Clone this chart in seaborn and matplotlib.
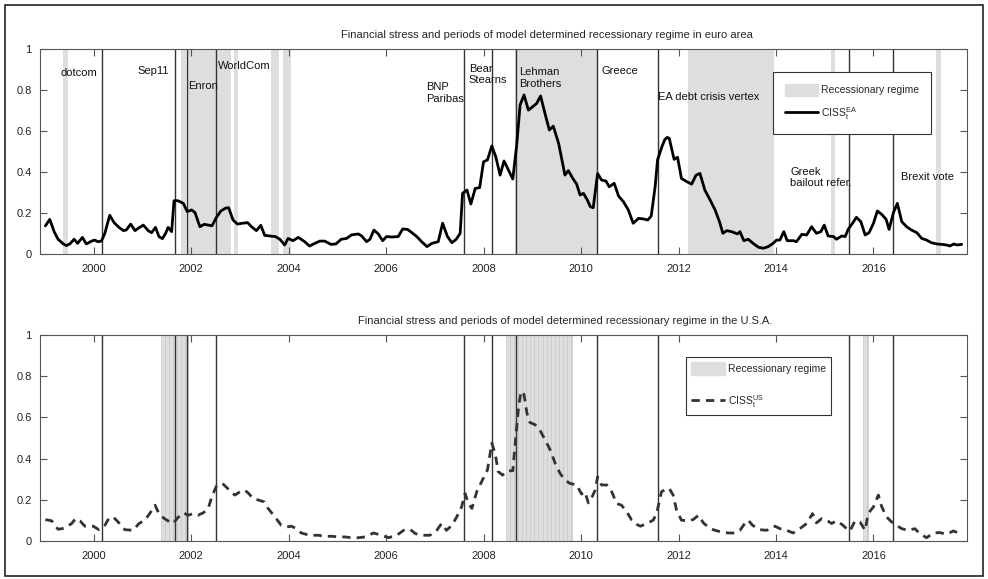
import numpy as np
import pandas as pd
import seaborn as sns
import matplotlib
matplotlib.use("Agg")
import matplotlib.pyplot as plt
from matplotlib.patches import Patch, Rectangle
from matplotlib.lines import Line2D

# --- data (decimal years) ---
ea_year = [1999.01, 1999.10, 1999.19, 1999.27, 1999.38, 1999.44, 1999.51, 1999.60, 1999.67, 1999.77,
           1999.85, 1999.96, 2000.02, 2000.09, 2000.16, 2000.23, 2000.33, 2000.42, 2000.52, 2000.61,
           2000.67, 2000.76, 2000.85, 2000.93, 2001.02, 2001.12, 2001.19, 2001.27, 2001.34, 2001.41,
           2001.47, 2001.53, 2001.60, 2001.65, 2001.73, 2001.84, 2001.92, 2002.01, 2002.08, 2002.18,
           2002.27, 2002.35, 2002.43, 2002.52, 2002.61, 2002.71, 2002.77, 2002.86, 2002.95, 2003.05,
           2003.16, 2003.24, 2003.34, 2003.43, 2003.51, 2003.61, 2003.73, 2003.82, 2003.92, 2003.99,
           2004.09, 2004.20, 2004.33, 2004.43, 2004.54, 2004.64, 2004.74, 2004.87, 2004.97, 2005.08,
           2005.19, 2005.29, 2005.43, 2005.50, 2005.60, 2005.67, 2005.75, 2005.84, 2005.93, 2006.01,
           2006.12, 2006.25, 2006.34, 2006.44, 2006.53, 2006.63, 2006.73, 2006.84, 2006.94, 2007.07,
           2007.16, 2007.26, 2007.35, 2007.44, 2007.52, 2007.57, 2007.66, 2007.74, 2007.83, 2007.92,
           2008.00, 2008.08, 2008.17, 2008.25, 2008.34, 2008.42, 2008.51, 2008.60, 2008.68, 2008.75,
           2008.83, 2008.92, 2009.01, 2009.09, 2009.17, 2009.26, 2009.35, 2009.43, 2009.54, 2009.67,
           2009.74, 2009.83, 2009.91, 2009.98, 2010.05, 2010.13, 2010.19, 2010.25, 2010.34, 2010.42,
           2010.51, 2010.58, 2010.68, 2010.77, 2010.87, 2010.97, 2011.07, 2011.18, 2011.28, 2011.37,
           2011.44, 2011.52, 2011.57, 2011.66, 2011.72, 2011.77, 2011.81, 2011.91, 2011.98, 2012.06,
           2012.17, 2012.27, 2012.36, 2012.44, 2012.54, 2012.65, 2012.75, 2012.84, 2012.91, 2012.99,
           2013.09, 2013.21, 2013.26, 2013.34, 2013.43, 2013.53, 2013.64, 2013.74, 2013.84, 2013.94,
           2014.01, 2014.08, 2014.16, 2014.23, 2014.36, 2014.42, 2014.53, 2014.63, 2014.73, 2014.83,
           2014.92, 2014.99, 2015.07, 2015.18, 2015.24, 2015.35, 2015.42, 2015.48, 2015.57, 2015.65,
           2015.74, 2015.83, 2015.91, 2016.00, 2016.08, 2016.17, 2016.26, 2016.32, 2016.41, 2016.49,
           2016.58, 2016.68, 2016.78, 2016.89, 2016.99, 2017.09, 2017.19, 2017.30, 2017.40, 2017.50,
           2017.57, 2017.65, 2017.71, 2017.81]
ea_ciss = [0.137, 0.169, 0.109, 0.072, 0.049, 0.041, 0.049, 0.072, 0.052, 0.081,
           0.049, 0.063, 0.068, 0.060, 0.063, 0.101, 0.189, 0.153, 0.130, 0.114,
           0.117, 0.146, 0.114, 0.128, 0.141, 0.114, 0.104, 0.130, 0.085, 0.075,
           0.098, 0.130, 0.109, 0.260, 0.260, 0.247, 0.207, 0.215, 0.202, 0.133,
           0.145, 0.141, 0.138, 0.179, 0.210, 0.224, 0.226, 0.166, 0.146, 0.150,
           0.153, 0.133, 0.114, 0.140, 0.091, 0.088, 0.085, 0.072, 0.044, 0.076,
           0.065, 0.081, 0.060, 0.039, 0.052, 0.063, 0.063, 0.047, 0.049, 0.072,
           0.076, 0.093, 0.098, 0.088, 0.060, 0.072, 0.117, 0.098, 0.065, 0.085,
           0.083, 0.085, 0.122, 0.120, 0.104, 0.085, 0.060, 0.036, 0.052, 0.060,
           0.150, 0.085, 0.055, 0.072, 0.101, 0.296, 0.312, 0.244, 0.320, 0.324,
           0.450, 0.459, 0.527, 0.475, 0.385, 0.454, 0.410, 0.366, 0.532, 0.727,
           0.776, 0.702, 0.719, 0.735, 0.771, 0.686, 0.605, 0.624, 0.540, 0.385,
           0.407, 0.369, 0.341, 0.288, 0.296, 0.263, 0.231, 0.226, 0.393, 0.361,
           0.356, 0.328, 0.345, 0.283, 0.255, 0.215, 0.150, 0.174, 0.171, 0.166,
           0.185, 0.328, 0.459, 0.524, 0.559, 0.569, 0.564, 0.462, 0.472, 0.369,
           0.353, 0.341, 0.385, 0.393, 0.312, 0.263, 0.215, 0.158, 0.101, 0.114,
           0.109, 0.098, 0.109, 0.065, 0.072, 0.052, 0.033, 0.028, 0.036, 0.052,
           0.068, 0.068, 0.109, 0.065, 0.065, 0.060, 0.096, 0.093, 0.133, 0.101,
           0.109, 0.141, 0.088, 0.085, 0.072, 0.088, 0.085, 0.120, 0.150, 0.179,
           0.158, 0.093, 0.104, 0.150, 0.210, 0.193, 0.169, 0.120, 0.202, 0.247,
           0.158, 0.133, 0.117, 0.104, 0.076, 0.068, 0.055, 0.049, 0.047, 0.044,
           0.039, 0.049, 0.044, 0.047]

us_year = [1999.01, 1999.14, 1999.27, 1999.40, 1999.55, 1999.63, 1999.72, 1999.82, 1999.90, 1999.99,
           2000.11, 2000.23, 2000.31, 2000.40, 2000.50, 2000.64, 2000.81, 2000.93, 2001.05, 2001.15,
           2001.26, 2001.34, 2001.45, 2001.56, 2001.63, 2001.73, 2001.84, 2001.94, 2002.04, 2002.14,
           2002.25, 2002.35, 2002.43, 2002.52, 2002.64, 2002.73, 2002.81, 2002.90, 2003.00, 2003.10,
           2003.18, 2003.27, 2003.39, 2003.50, 2003.58, 2003.72, 2003.85, 2003.96, 2004.06, 2004.16,
           2004.26, 2004.43, 2004.61, 2004.74, 2004.88, 2005.02, 2005.15, 2005.29, 2005.43, 2005.57,
           2005.74, 2005.91, 2006.05, 2006.22, 2006.36, 2006.49, 2006.60, 2006.73, 2006.90, 2007.04,
           2007.14, 2007.24, 2007.35, 2007.45, 2007.55, 2007.62, 2007.69, 2007.76, 2007.86, 2007.96,
           2008.08, 2008.17, 2008.24, 2008.30, 2008.39, 2008.49, 2008.60, 2008.65, 2008.72, 2008.77,
           2008.83, 2008.89, 2008.95, 2009.06, 2009.16, 2009.26, 2009.36, 2009.47, 2009.57, 2009.67,
           2009.77, 2009.91, 2010.01, 2010.08, 2010.15, 2010.22, 2010.29, 2010.34, 2010.42, 2010.53,
           2010.63, 2010.73, 2010.83, 2010.94, 2011.04, 2011.14, 2011.22, 2011.35, 2011.48, 2011.55,
           2011.65, 2011.76, 2011.81, 2011.89, 2011.96, 2012.06, 2012.20, 2012.30, 2012.41, 2012.51,
           2012.65, 2012.75, 2012.88, 2013.02, 2013.16, 2013.26, 2013.36, 2013.43, 2013.52, 2013.67,
           2013.81, 2013.98, 2014.08, 2014.22, 2014.35, 2014.49, 2014.63, 2014.75, 2014.83, 2014.94,
           2015.04, 2015.14, 2015.24, 2015.35, 2015.45, 2015.52, 2015.62, 2015.72, 2015.83, 2015.89,
           2016.00, 2016.10, 2016.17, 2016.27, 2016.37, 2016.47, 2016.58, 2016.71, 2016.85, 2016.95,
           2017.09, 2017.23, 2017.36, 2017.50, 2017.64, 2017.74, 2017.81]
us_ciss = [0.104, 0.098, 0.057, 0.062, 0.085, 0.109, 0.098, 0.072, 0.073, 0.072,
           0.055, 0.076, 0.109, 0.117, 0.093, 0.055, 0.052, 0.085, 0.101, 0.133,
           0.174, 0.133, 0.109, 0.093, 0.085, 0.114, 0.137, 0.125, 0.133, 0.125,
           0.137, 0.158, 0.218, 0.267, 0.280, 0.260, 0.239, 0.223, 0.239, 0.247,
           0.231, 0.207, 0.198, 0.190, 0.158, 0.117, 0.076, 0.068, 0.072, 0.060,
           0.039, 0.028, 0.028, 0.023, 0.023, 0.020, 0.020, 0.016, 0.016, 0.020,
           0.039, 0.028, 0.016, 0.028, 0.052, 0.057, 0.036, 0.028, 0.028, 0.052,
           0.085, 0.052, 0.076, 0.117, 0.166, 0.231, 0.182, 0.158, 0.239, 0.288,
           0.345, 0.475, 0.423, 0.337, 0.320, 0.341, 0.341, 0.475, 0.654, 0.727,
           0.711, 0.621, 0.576, 0.564, 0.537, 0.491, 0.446, 0.377, 0.328, 0.296,
           0.280, 0.272, 0.228, 0.239, 0.185, 0.211, 0.247, 0.312, 0.272, 0.272,
           0.239, 0.182, 0.174, 0.141, 0.101, 0.081, 0.072, 0.085, 0.101, 0.133,
           0.239, 0.255, 0.255, 0.223, 0.150, 0.101, 0.098, 0.104, 0.125, 0.088,
           0.060, 0.052, 0.044, 0.039, 0.039, 0.052, 0.085, 0.101, 0.076, 0.055,
           0.052, 0.072, 0.060, 0.052, 0.039, 0.060, 0.085, 0.133, 0.088, 0.109,
           0.101, 0.085, 0.098, 0.081, 0.060, 0.049, 0.098, 0.093, 0.052, 0.133,
           0.166, 0.223, 0.166, 0.117, 0.093, 0.076, 0.060, 0.052, 0.060, 0.036,
           0.016, 0.039, 0.041, 0.033, 0.049, 0.039, 0.028]

# model determined recessionary regimes (start, end)
ea_regimes = [(1999.38, 1999.47), (2001.79, 2001.90), (2001.94, 2002.81), (2002.88, 2002.97),
              (2003.63, 2003.80), (2003.89, 2004.05), (2008.65, 2010.33), (2012.20, 2013.96),
              (2015.12, 2015.21), (2017.28, 2017.38)]
us_regimes = [(2001.38, 2001.94), (2008.46, 2009.81), (2015.79, 2015.89)]

event_years = [2000.17, 2001.67, 2001.92, 2002.51, 2007.59, 2008.17, 2008.67,
               2010.33, 2011.57, 2015.50, 2016.41]
event_labels = ["dotcom", "Sep11", "Enron", "WorldCom", "BNP\nParibas", "Bear\nStearns",
                "Lehman\nBrothers", "Greece", "EA debt crisis vertex",
                "Greek\nbailout refer.", "Brexit vote"]
label_x = [1999.33, 2000.89, 2001.94, 2002.56, 2006.82, 2007.70, 2008.73,
           2010.42, 2011.58, 2014.29, 2016.56]
label_y = [0.883, 0.893, 0.82, 0.917, 0.785, 0.876, 0.858, 0.893, 0.766, 0.373, 0.376]

year_ticks = [2000, 2002, 2004, 2006, 2008, 2010, 2012, 2014, 2016]
value_ticks = [0, 0.2, 0.4, 0.6, 0.8, 1]

ea = pd.DataFrame({"year": ea_year, "ciss": ea_ciss})
us = pd.DataFrame({"year": us_year, "ciss": us_ciss})

sns.set_theme(style="white")
plt.rcParams["font.family"] = ["Liberation Sans", "DejaVu Sans"]
plt.rcParams["mathtext.fontset"] = "custom"
plt.rcParams["mathtext.rm"] = "Liberation Sans"
plt.rcParams["mathtext.it"] = "Liberation Sans"

shade = "#dedede"
edge = "#555555"
fs = 8
lfs = 7.5

fig = plt.figure(figsize=(9.88, 5.79), dpi=100)
ax1 = fig.add_axes([0.0405, 0.5613, 0.9383, 0.354])
ax2 = fig.add_axes([0.0405, 0.0656, 0.9383, 0.3558])

# outer frame
fig.patches.append(Rectangle((0.005, 0.006), 0.99, 0.986, transform=fig.transFigure,
                             fill=False, edgecolor="#222222", lw=1.2))


def style_axes(ax):
    ax.set_xlim(1998.9, 2017.92)
    ax.set_ylim(0, 1)
    ax.set_xticks(year_ticks)
    ax.set_xticklabels([str(y) for y in year_ticks])
    ax.set_yticks(value_ticks)
    ax.set_yticklabels(["0", "0.2", "0.4", "0.6", "0.8", "1"])
    ax.tick_params(direction="in", length=5, width=0.8, colors="#555555",
                   labelcolor="#222222", labelsize=fs, top=True, right=True,
                   left=True, bottom=True)
    ax.tick_params(axis="x", pad=7)
    ax.tick_params(axis="y", pad=6)
    for s in ax.spines.values():
        s.set_color(edge)
        s.set_linewidth(0.8)
    ax.set_xlabel("")
    ax.set_ylabel("")


def add_legend(ax, line, label, anchor, pad, hh, ls):
    leg = ax.legend(handles=[Patch(facecolor=shade, edgecolor=shade), line],
                    labels=["Recessionary regime", label],
                    loc="upper left", bbox_to_anchor=anchor, fontsize=lfs,
                    handlelength=3.2, handleheight=hh, labelspacing=ls, borderpad=pad,
                    handletextpad=0.3, fancybox=False, framealpha=1, borderaxespad=0)
    leg.get_frame().set_edgecolor("#333333")
    leg.get_frame().set_linewidth(0.8)


# --- top panel: euro area ---
for a, b in ea_regimes:
    ax1.axvspan(a, b, color=shade, lw=0, zorder=0)
for x in event_years:
    ax1.axvline(x, color="#333333", lw=1.0, zorder=1)
sns.lineplot(data=ea, x="year", y="ciss", ax=ax1, color="black", lw=2.0, zorder=3)
for txt, x, y in zip(event_labels, label_x, label_y):
    ax1.text(x, y, txt, fontsize=fs, ha="left", va="center", color="#111111", linespacing=1.2)
style_axes(ax1)
ax1.set_title("Financial stress and periods of model determined recessionary regime in euro area",
              fontsize=fs, x=0.547, pad=8)
add_legend(ax1, Line2D([0], [0], color="black", lw=2.0), r"CISS$_{\mathrm{t}}^{\mathrm{EA}}$",
           (0.791, 0.886), 1.1, 1.4, 0.9)

# --- bottom panel: U.S.A. ---
for a, b in us_regimes:
    for m in np.arange(a, b, 1 / 12):
        ax2.axvspan(m, min(m + 1 / 12, b), facecolor=shade, edgecolor="#cccccc", lw=0.6, zorder=0)
for x in event_years:
    ax2.axvline(x, color="#333333", lw=1.0, zorder=1)
sns.lineplot(data=us, x="year", y="ciss", ax=ax2, color="#333333", lw=2.0,
             linestyle=(0, (3, 2.2)), zorder=3)
style_axes(ax2)
ax2.set_title("Financial stress and periods of model determined recessionary regime in the U.S.A.",
              fontsize=fs, x=0.566, pad=8)
add_legend(ax2, Line2D([0], [0], color="#333333", lw=2.0, linestyle=(0, (3, 2.2))),
           r"CISS$_{\mathrm{t}}^{\mathrm{US}}$", (0.697, 0.893), 0.5, 1.5, 1.75)

fig.savefig("out.png", dpi=100)
